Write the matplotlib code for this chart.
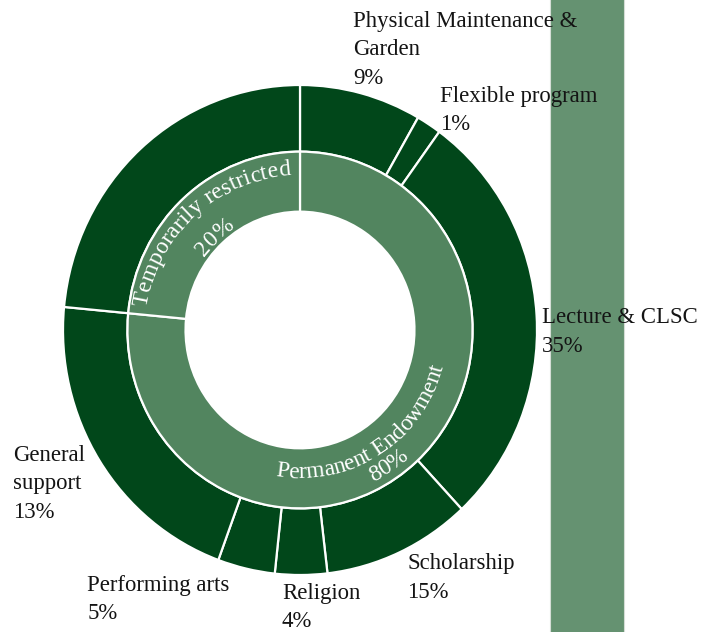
import matplotlib
matplotlib.use('Agg')
import matplotlib.pyplot as plt
from matplotlib.patches import Rectangle
from matplotlib import font_manager
from matplotlib.ft2font import FT2Font
import numpy as np

# ---------------- data ----------------
inner_labels = ['Permanent Endowment', 'Temporarily restricted']
inner_pct_text = ['80%', '20%']
inner_values = [76.5, 23.5]

outer_labels = ['Physical Maintenance &\nGarden', 'Flexible program', 'Lecture & CLSC',
                'Scholarship', 'Religion', 'Performing arts', 'General\nsupport', '']
outer_pct_text = ['9%', '1%', '35%', '15%', '4%', '5%', '13%', '']
outer_values = [8.3, 1.7, 28.05, 10.1, 3.55, 3.9, 20.9, 23.5]

# ---------------- style ----------------
OUTER = '#01471a'
INNER = '#52855f'
RECT = '#659271'
TXT = '#141414'
FAMILY = 'Liberation Serif'
FS = 16.4
FS_IN = 16.9

W, H = 716, 632
CX, CY = 300, 330      # pie centre in pixels (from top-left)
SX, SY = 237, 245      # pixel size of unit radius

fig = plt.figure(figsize=(W / 100, H / 100), dpi=100)
ax = fig.add_axes([0, 0, 1, 1])

ax.add_patch(Rectangle((549.7 / W, -0.02), (624 - 549.7) / W, 1.04, transform=ax.transAxes,
                       facecolor=RECT, edgecolor='#d5ddd6', linewidth=0.8, zorder=0))

ax.pie(outer_values, radius=1.0, colors=[OUTER] * len(outer_values), startangle=90,
       counterclock=False, wedgeprops=dict(width=0.272, edgecolor='white', linewidth=1.6))
ax.pie(inner_values, radius=0.728, colors=[INNER] * len(inner_values), startangle=90,
       counterclock=False, wedgeprops=dict(width=0.245, edgecolor='white', linewidth=1.6))

ax.set_aspect('auto')
ax.set_xlim(-CX / SX, (W - CX) / SX)
ax.set_ylim(-(H - CY) / SY, CY / SY)
ax.axis('off')


def px2data(px, py):
    return (px - CX) / SX, (CY - py) / SY


# outer labels: (left x, first baseline y) in pixels
label_pos = [(353, 26.7), (440, 101.7), (542, 323.3), (407.5, 569.3),
             (282, 598.5), (87.5, 590.5), (13.5, 460.7), None]
STEP = 28.7
for lab, pct, pos in zip(outer_labels, outer_pct_text, label_pos):
    if pos is None or not lab:
        continue
    lines = lab.split('\n') + [pct]
    for i, line in enumerate(lines):
        x, y = px2data(pos[0], pos[1] + i * STEP)
        ax.text(x, y, line, ha='left', va='baseline', fontsize=FS, family=FAMILY,
                color=TXT, zorder=5)

# curved inner labels
font_path = font_manager.findfont(font_manager.FontProperties(family=FAMILY))
ft = FT2Font(font_path)


def advances(s, size_pt):
    ft.set_size(size_pt, 100)
    out = []
    for ch in s:
        g = ft.load_char(ord(ch))
        out.append(g.linearHoriAdvance / 65536)
    return out


def curved(text, center_deg, r_px, top, size=FS_IN, color='white'):
    adv = advances(text, size)
    total = sum(adv)
    span = total / r_px
    c = np.radians(center_deg)
    s = 0.0
    for ch, a in zip(text, adv):
        mid = s + a / 2
        if top:
            phi = c - span / 2 + mid / r_px
            rot = -np.degrees(phi)
        else:
            phi = c + span / 2 - mid / r_px
            rot = 180 - np.degrees(phi)
        x = r_px * np.sin(phi) / SX
        y = r_px * np.cos(phi) / SY
        ax.text(x, y, ch, rotation=rot, rotation_mode='anchor', ha='center',
                va='baseline', fontsize=size, family=FAMILY, color=color, zorder=6)
        s += a


# Permanent Endowment (bottom, reads counter-clockwise)
curved(inner_labels[0], 147, 148, top=False)
curved(inner_pct_text[0], 147, 168, top=False)
# Temporarily restricted (top, reads clockwise)
curved(inner_labels[1], 317.5, 155, top=True)
curved(inner_pct_text[1], 317.5, 121, top=True)

fig.savefig('out.png', dpi=100)
